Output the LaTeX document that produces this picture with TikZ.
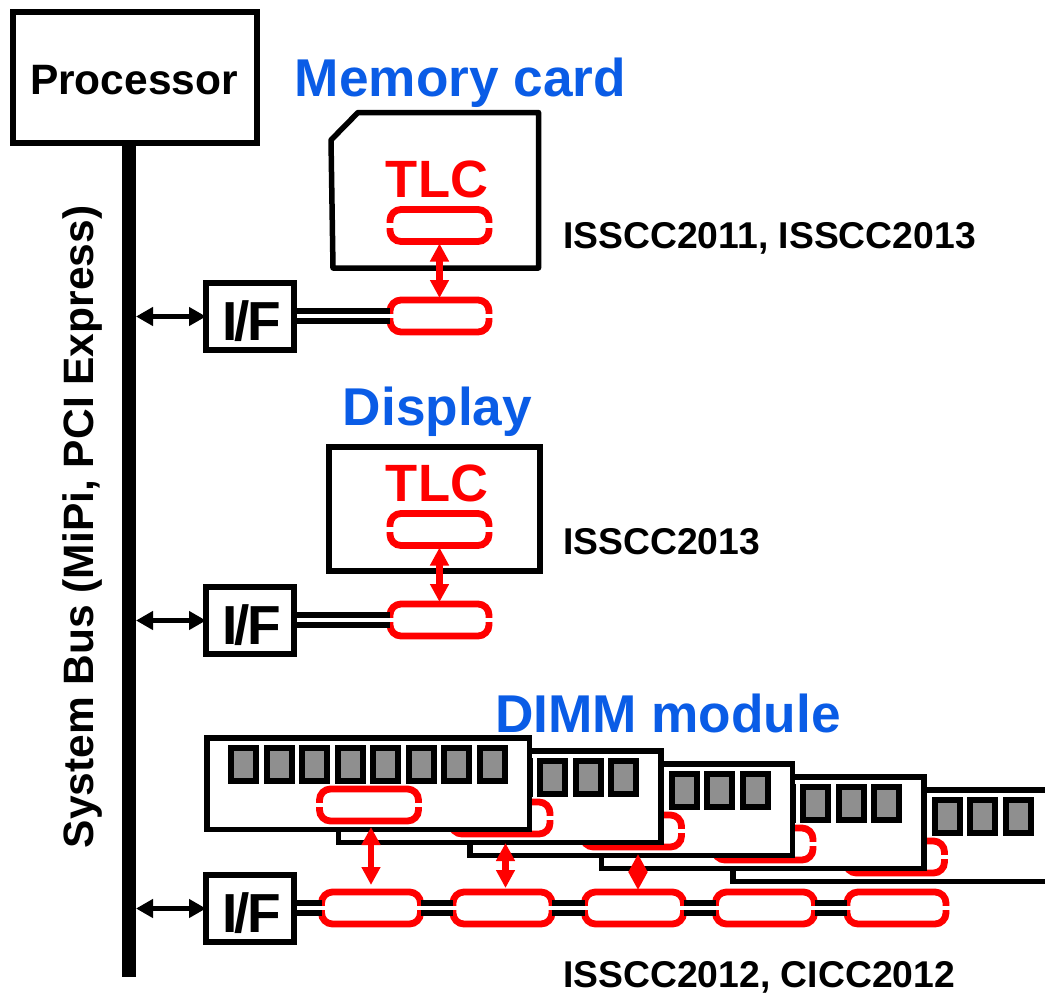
\documentclass[tikz,border=0pt]{standalone}
\usepackage{fontspec}
\setmainfont{Liberation Sans}
\usetikzlibrary{arrows.meta,calc}
\definecolor{tlcred}{RGB}{255,0,0}
\definecolor{headblue}{RGB}{10,92,230}
\definecolor{chipgray}{RGB}{143,143,143}
\tikzset{
  x=1pt,y=-1pt,
  boxb/.style={draw=black,line width=5.5pt,fill=white,inner sep=0pt,outer sep=0pt},
  pill/.style={draw=tlcred,line width=6.8pt,fill=white,rounded corners=11pt,inner sep=0pt,outer sep=0pt,minimum width=99pt,minimum height=32pt},
  gapline/.style={draw=white,line width=4.5pt},
  wirel/.style={draw=black,line width=5.5pt},
  redarr/.style={draw=tlcred,line width=6.5pt,{Triangle[length=18pt,width=18pt,fill=tlcred]}-{Triangle[length=18pt,width=18pt,fill=tlcred]}},
  blkarr/.style={draw=black,line width=5pt,{Triangle[length=17pt,width=18pt]}-{Triangle[length=17pt,width=18pt]}},
  chipbox/.style={draw=black,line width=6pt,fill=chipgray,inner sep=0pt,outer sep=0pt,minimum width=25pt,minimum height=33pt},
  ttl/.style={text=headblue,inner sep=0pt,font=\bfseries\fontsize{53.2}{53.2}\selectfont},
  tlc/.style={text=tlcred,inner sep=0pt,font=\bfseries\fontsize{52.5}{52.5}\selectfont},
  ref/.style={text=black,inner sep=0pt,anchor=west,font=\bfseries\fontsize{37.3}{37.3}\selectfont},
  iface/.style={boxb,minimum width=88pt,minimum height=67pt},
  ifacet/.style={inner sep=0pt,font=\bfseries\fontsize{55}{55}\selectfont},
}
\newcommand{\pillgap}[1]{%
  \draw[gapline] ([xshift=-4.5pt]#1.west) -- ([xshift=4.5pt]#1.west);
  \draw[gapline] ([xshift=-4.5pt]#1.east) -- ([xshift=4.5pt]#1.east);}
\newcommand{\wirepair}[2]{%
  \draw[wirel] ([yshift=5pt]#2.west -| #1.east) -- ([yshift=5pt]#2.west);
  \draw[wirel] ([yshift=-5pt]#2.west -| #1.east) -- ([yshift=-5pt]#2.west);}
\newcommand{\iftext}{I\kern-3pt/\kern-2.5pt F}
\begin{document}
\begin{tikzpicture}
\useasboundingbox (0,0) rectangle (1045,994);
\clip (0,0) rectangle (1045,994);
\fill[white] (0,0) rectangle (1045,994);

% bus and processor
\node[draw=none,fill=black,inner sep=0pt,outer sep=0pt,minimum width=14pt,minimum height=832pt] (bus) at (129,561) {};
\node[boxb,minimum width=244pt,minimum height=131pt] (cpu) at (135,77.5) {};
\node[inner sep=0pt,font=\bfseries\fontsize{42.5}{42.5}\selectfont] (cputext) at (134,80) {Processor};
\node[rotate=90,inner sep=0pt,font=\bfseries\fontsize{42.5}{42.5}\selectfont] (buslabel) at (83,527) {System Bus (MiPi, PCI Express)};

% interfaces
\node[iface] (f1) at (250,316.5) {};
\node[iface] (f2) at (250,620.5) {};
\node[iface] (f3) at (250,908.5) {};
\node[ifacet] (ft1) at (252,321) {\iftext};
\node[ifacet] (ft2) at (252,625) {\iftext};
\node[ifacet] (ft3) at (252,913) {\iftext};
\coordinate (t1) at (136,316.5);
\coordinate (t2) at (136,620.5);
\coordinate (t3) at (136,908.5);
\draw[blkarr] (t1) -- (f1.west);
\draw[blkarr] (t2) -- (f2.west);
\draw[blkarr] (t3) -- (f3.west);

% memory card
\node[ttl] (memtitle) at (460.5,83) {Memory card};
\draw[black,line width=5.5pt,line join=round,fill=white] (331,140) -- (358,112.5) -- (538.5,112.5) -- (538.5,268) -- (333,268) -- cycle;
\node[tlc] (tlc1) at (437,179) {TLC};
\node[pill] (p1a) at (439.5,225.5) {};
\node[pill] (p1b) at (439.5,316) {};
\wirepair{f1}{p1b}
\pillgap{p1a}\pillgap{p1b}
\draw[redarr,shorten <=-1pt,shorten >=-1pt] ([yshift=-3pt]p1a.south) -- ([yshift=3pt]p1b.north);
\node[ref] (r1) at (563,238) {ISSCC2011, ISSCC2013};

% display
\node[ttl] (disptitle) at (437.5,412) {Display};
\node[boxb,minimum width=211pt,minimum height=124pt] (disp) at (434.5,509) {};
\node[tlc] (tlc2) at (437,483) {TLC};
\node[pill] (p2a) at (439.5,529.5) {};
\node[pill] (p2b) at (439.5,620) {};
\wirepair{f2}{p2b}
\pillgap{p2a}\pillgap{p2b}
\draw[redarr,shorten <=-1pt,shorten >=-1pt] ([yshift=-3pt]p2a.south) -- ([yshift=3pt]p2b.north);
\node[ref] (r2) at (563,542) {ISSCC2013};

% DIMM modules, back to front
\node[ttl] (dimmtitle) at (668,713) {DIMM module};
\foreach \m/\dx/\dy in {5/526/52,4/394.5/39,3/263/26,2/131.5/13,1/0/0}{
  \begin{scope}[shift={(\dx,\dy)}]
    \node[boxb,minimum width=322.5pt,minimum height=91.5pt] (m\m) at (368.25,783.75) {};
    \foreach \c in {0,...,7}{
      \node[chipbox] (c\m\c) at ({243.5+35.5*\c},764.5) {};
    }
    \node[pill] (q\m) at (369,805) {};
    \pillgap{q\m}
  \end{scope}
}

% DIMM bus
\node[pill] (b1) at (371,908) {};
\node[pill] (b2) at (502.5,908) {};
\node[pill] (b3) at (634,908) {};
\node[pill] (b4) at (765,908) {};
\node[pill] (b5) at (896.5,908) {};
\wirepair{f3}{b1}
\draw[wirel] ([yshift=5pt]b1.east) -- ([yshift=5pt]b2.west);
\draw[wirel] ([yshift=-5pt]b1.east) -- ([yshift=-5pt]b2.west);
\draw[wirel] ([yshift=5pt]b2.east) -- ([yshift=5pt]b3.west);
\draw[wirel] ([yshift=-5pt]b2.east) -- ([yshift=-5pt]b3.west);
\draw[wirel] ([yshift=5pt]b3.east) -- ([yshift=5pt]b4.west);
\draw[wirel] ([yshift=-5pt]b3.east) -- ([yshift=-5pt]b4.west);
\draw[wirel] ([yshift=5pt]b4.east) -- ([yshift=5pt]b5.west);
\draw[wirel] ([yshift=-5pt]b4.east) -- ([yshift=-5pt]b5.west);
\foreach \n in {b1,b2,b3,b4,b5}{\pillgap{\n}}

\coordinate (a1t) at (371,827);
\coordinate (a1b) at (371,885);
\coordinate (a2t) at (505.5,843);
\coordinate (a2b) at (505.5,888);
\coordinate (a3t) at (638,854);
\coordinate (a3b) at (638,890);
\draw[redarr] (a1t) -- (a1b);
\draw[redarr] (a2t) -- (a2b);
\draw[redarr] (a3t) -- (a3b);

\node[ref] (r3) at (563,977) {ISSCC2012, CICC2012};
\end{tikzpicture}
\end{document}
